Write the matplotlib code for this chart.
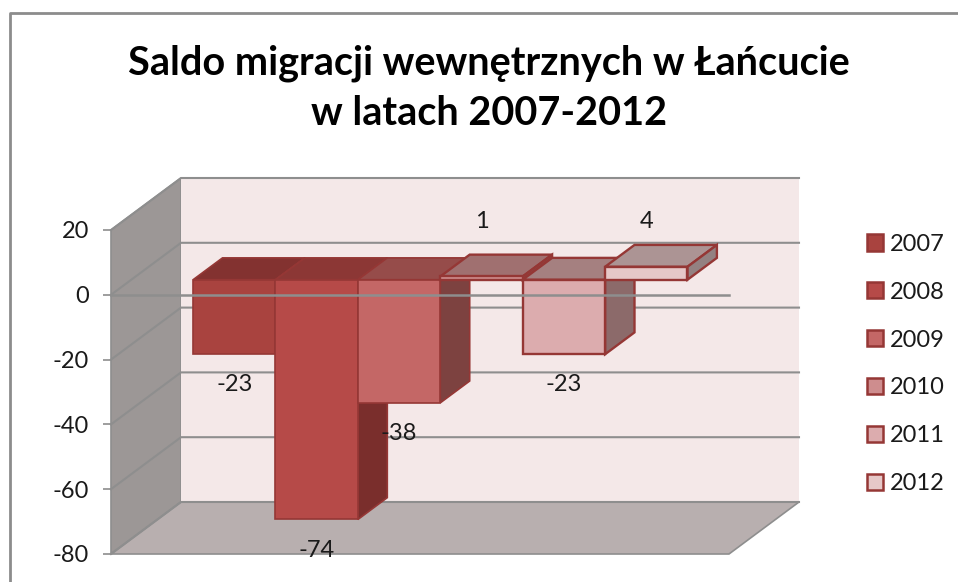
import matplotlib
matplotlib.use('Agg')
import matplotlib.pyplot as plt
from matplotlib.lines import Line2D
from matplotlib.patches import Polygon, Patch

years = ['2007', '2008', '2009', '2010', '2011', '2012']
saldo = [-23, -74, -38, 1, -23, 4]
y_ticks = [20, 0, -20, -40, -60, -80]

front_cols = ['#A9433F', '#B64A48', '#C46766', '#CE8D8E', '#DCACAE', '#E6C8C8']
top_cols = ['#833230', '#8C3735', '#964C4A', '#A07070', '#A58080', '#AC9494']
side_cols = ['#6E2A28', '#7A2E2C', '#7D4240', '#855A5A', '#8C6A6A', '#938181']
edge = '#953735'
grid_col = '#8E8E8E'

W, H = 958, 582
plt.rcParams['font.family'] = ['Lato', 'DejaVu Sans']
plt.rcParams['axes.unicode_minus'] = False
fig = plt.figure(figsize=(W / 100, H / 100), dpi=100)

# chart frame, runs off the picture on the right and at the bottom
fig.add_artist(Line2D([9.5 / W, 9.5 / W, 1], [0, 1 - 12.5 / H, 1 - 12.5 / H], color='#8C8C8C', lw=2))

# front plane of the box: x 111-729 px, y 230-554 px
ax = fig.add_axes([111 / W, 1 - 554 / H, 618 / W, 324 / H])
ax.set_xlim(0, 7.5)
ax.set_ylim(-80, 20)
ax.patch.set_visible(False)

# oblique projection, depth d goes 0 (front) to 1 (back wall)
DX = 70 / 82.4
DY = 52 / 3.24


def pr(x, y, d):
    return (x + d * DX, y + d * DY)


def poly(pts, z, **kw):
    p = Polygon(pts, closed=True, zorder=z, clip_on=False, **kw)
    ax.add_patch(p)


# walls
poly([pr(0, -80, 0), pr(0, -80, 1), pr(0, 20, 1), pr(0, 20, 0)], 1, fc='#9C9796', ec=grid_col, lw=1.2)
poly([pr(0, -80, 1), pr(7.5, -80, 1), pr(7.5, 20, 1), pr(0, 20, 1)], 1, fc='#F4E8E8', ec='none')
poly([pr(0, -80, 0), pr(7.5, -80, 0), pr(7.5, -80, 1), pr(0, -80, 1)], 1, fc='#B8AFAF', ec=grid_col, lw=1.2)

for t in y_ticks:
    a, b = pr(0, t, 0), pr(0, t, 1)
    c = pr(7.5, t, 1)
    ax.plot([a[0], b[0], c[0]], [a[1], b[1], c[1]], color=grid_col, lw=1.5, zorder=2, clip_on=False)

# bars, left to right so the next one covers the side of the last
D1, D2 = 0.29, 0.71
for i, v in enumerate(saldo):
    x0 = 0.75 + i
    x1 = x0 + 1
    z = 3 + i
    lw = 1.2 if i < 3 else 1.7
    top = max(v, 0)
    poly([pr(x0, top, D1), pr(x1, top, D1), pr(x1, top, D2), pr(x0, top, D2)], z,
         fc=top_cols[i], ec=edge, lw=lw)
    poly([pr(x1, 0, D1), pr(x1, v, D1), pr(x1, v, D2), pr(x1, 0, D2)], z,
         fc=side_cols[i], ec=edge, lw=lw)
    poly([pr(x0, 0, D1), pr(x1, 0, D1), pr(x1, v, D1), pr(x0, v, D1)], z + 0.5,
         fc=front_cols[i], ec=edge, lw=lw)

# zero line runs in front of the bars
ax.axhline(0, color=grid_col, lw=1.8, zorder=20, clip_on=False)

# labels
for i, v in enumerate(saldo):
    cx, cy = pr(0.75 + i + 0.5, v, D1)
    if v < 0:
        ax.annotate(str(v), (cx, cy), xytext=(0, -22), textcoords='offset points',
                    ha='center', va='center', fontsize=17, color='#1A1A1A', zorder=30,
                    annotation_clip=False)
    else:
        ax.text(cx, 22.5, str(v), ha='center', va='center', fontsize=17, color='#1A1A1A', zorder=30)

for s in ax.spines.values():
    s.set_visible(False)
ax.set_xticks([])
ax.set_yticks(y_ticks)
ax.tick_params(axis='y', length=5.8, width=1.2, color=grid_col, pad=10, labelsize=17, labelcolor='#1A1A1A')

handles = [Patch(fc=c, ec=edge, lw=1.8) for c in front_cols]
fig.legend(handles, years, loc='center left', bbox_to_anchor=(867 / W, 1 - 364 / H), frameon=False,
           fontsize=17, handlelength=0.68, handleheight=0.68, handletextpad=0.3, labelspacing=1.14,
           labelcolor='#1A1A1A', borderpad=0, borderaxespad=0)

fig.text(489 / W, 1 - 88 / H, 'Saldo migracji wewnętrznych w Łańcucie\nw latach 2007-2012',
         ha='center', va='center', fontsize=28.5, fontweight='bold', color='black', linespacing=1.42)

fig.savefig('out.png', dpi=100)
